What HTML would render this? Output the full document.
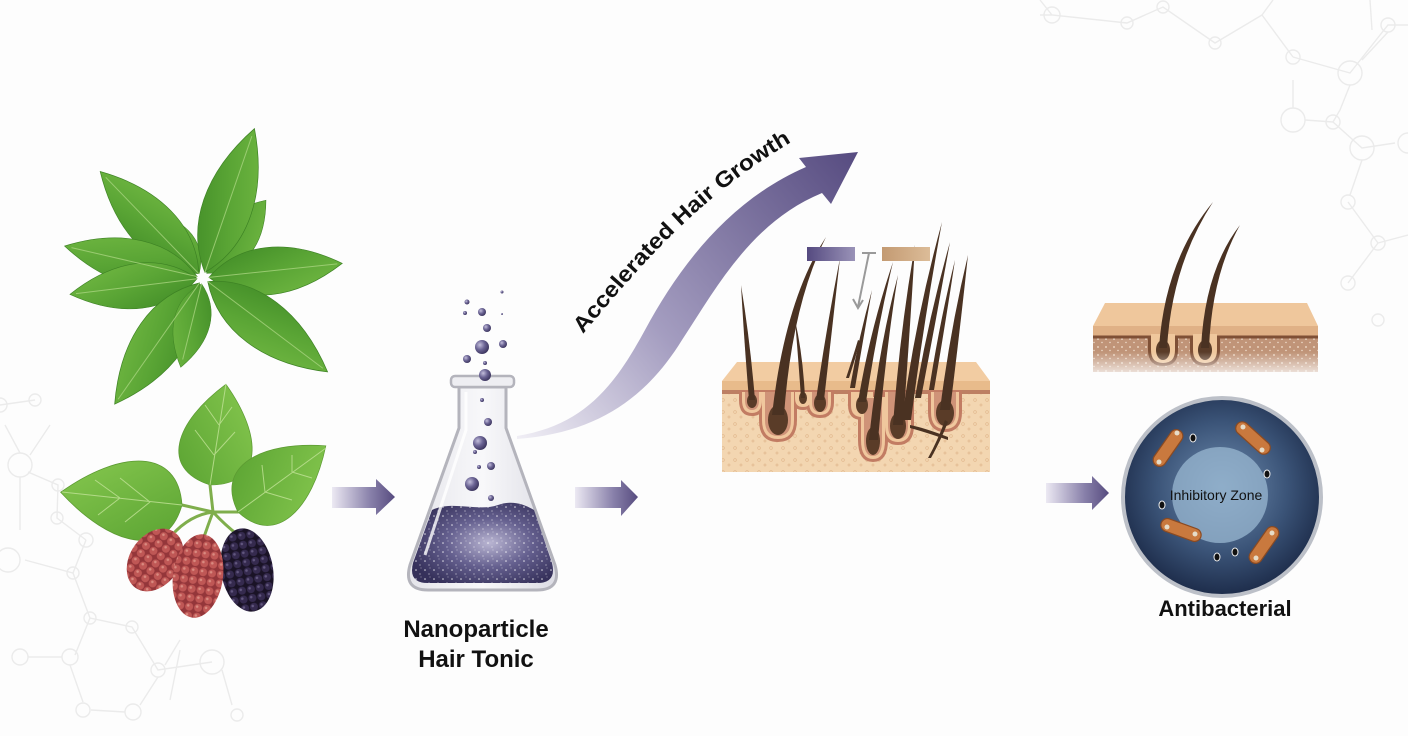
<!DOCTYPE html>
<html><head><meta charset="utf-8"><style>
html,body{margin:0;padding:0;background:#fdfdfd;}
svg{display:block;}
</style></head><body>
<svg width="1408" height="736" viewBox="0 0 1408 736" xmlns="http://www.w3.org/2000/svg">
<defs>
  <linearGradient id="arr" x1="0" y1="0" x2="1" y2="0">
    <stop offset="0" stop-color="#ece9f3"/><stop offset="0.6" stop-color="#8a82ab"/><stop offset="1" stop-color="#564b7f"/>
  </linearGradient>
  <linearGradient id="curve" x1="518" y1="437" x2="858" y2="152" gradientUnits="userSpaceOnUse">
    <stop offset="0" stop-color="#f0eef5"/><stop offset="0.4" stop-color="#a49dc0"/><stop offset="1" stop-color="#564b80"/>
  </linearGradient>
  <linearGradient id="leafg" x1="0" y1="0" x2="1" y2="1">
    <stop offset="0" stop-color="#3f8a26"/><stop offset="0.5" stop-color="#5aa535"/><stop offset="1" stop-color="#74ba44"/>
  </linearGradient>
  <linearGradient id="mleafg" x1="0" y1="0" x2="1" y2="1">
    <stop offset="0" stop-color="#5aa332"/><stop offset="1" stop-color="#88c950"/>
  </linearGradient>
  <path id="leaf" d="M0,0 C25,-30 62,-30 100,0 C62,30 25,30 0,0 Z"/>
  <path id="mleaf" d="M0,0 C8,-42 55,-36 100,0 C55,36 8,42 0,0 Z"/>
  <pattern id="redB" width="9" height="9" patternUnits="userSpaceOnUse">
    <rect width="9" height="9" fill="#94363a"/>
    <circle cx="4.5" cy="4.5" r="4" fill="#bf5755"/><circle cx="3.4" cy="3.4" r="1.3" fill="#d98a80"/>
  </pattern>
  <pattern id="blkB" width="9" height="9" patternUnits="userSpaceOnUse">
    <rect width="9" height="9" fill="#1a1326"/>
    <circle cx="4.5" cy="4.5" r="4" fill="#352a4e"/><circle cx="3.4" cy="3.4" r="1.3" fill="#62577f"/>
  </pattern>
  <linearGradient id="glass" x1="0" y1="0" x2="1" y2="0">
    <stop offset="0" stop-color="#e4e4ea"/><stop offset="0.5" stop-color="#f8f8fa"/><stop offset="1" stop-color="#dcdce4"/>
  </linearGradient>
  <radialGradient id="liq" cx="0.55" cy="0.5" r="0.6">
    <stop offset="0" stop-color="#b9b5d2"/><stop offset="0.5" stop-color="#65608f"/><stop offset="1" stop-color="#35305a"/>
  </radialGradient>
  <pattern id="spk" width="9" height="9" patternUnits="userSpaceOnUse">
    <circle cx="2" cy="3" r="0.8" fill="#fff" opacity="0.8"/><circle cx="6" cy="7" r="0.6" fill="#fff" opacity="0.7"/><circle cx="7" cy="1" r="0.5" fill="#fff" opacity="0.6"/>
  </pattern>
  <radialGradient id="bub" cx="0.35" cy="0.35" r="0.7">
    <stop offset="0" stop-color="#c3bedb"/><stop offset="0.5" stop-color="#6b6494"/><stop offset="1" stop-color="#3a335c"/>
  </radialGradient>
  <pattern id="derm" width="12" height="12" patternUnits="userSpaceOnUse">
    <rect width="12" height="12" fill="#f3d6b1"/>
    <circle cx="3" cy="4" r="1.4" fill="none" stroke="#e2b98f" stroke-width="0.7"/>
    <circle cx="9" cy="9" r="1" fill="none" stroke="#e2b98f" stroke-width="0.7"/>
  </pattern>
  <pattern id="derm2" width="8" height="8" patternUnits="userSpaceOnUse">
    <rect width="8" height="8" fill="#c09478"/>
    <circle cx="2" cy="3" r="0.9" fill="#f3e2d2"/><circle cx="6" cy="6.5" r="0.7" fill="#f3e2d2"/>
  </pattern>
  <linearGradient id="fadeB" x1="0" y1="0" x2="0" y2="1">
    <stop offset="0" stop-color="#fdfdfd" stop-opacity="0"/><stop offset="1" stop-color="#fdfdfd" stop-opacity="0.85"/>
  </linearGradient>
  <radialGradient id="dish" cx="0.5" cy="0.45" r="0.55">
    <stop offset="0" stop-color="#6f8db0"/><stop offset="0.6" stop-color="#3b5478"/><stop offset="1" stop-color="#1d2c4a"/>
  </radialGradient>
  <linearGradient id="barP" x1="0" y1="0" x2="1" y2="0">
    <stop offset="0" stop-color="#554a80"/><stop offset="1" stop-color="#9a93b8"/>
  </linearGradient>
  <linearGradient id="barT" x1="0" y1="0" x2="1" y2="0">
    <stop offset="0" stop-color="#c39a72"/><stop offset="1" stop-color="#dcbc98"/>
  </linearGradient>
</defs>

<!-- background network -->
<g stroke="#ebebeb" stroke-width="1.4" fill="none">
  <path d="M1040,0 L1052,15 L1127,23 L1163,7 L1215,43 L1262,15 M1040,15 L1052,15 M1273,0 L1262,15 M1293,57 L1350,73 L1388,25 L1408,25 M1293,57 L1262,15 M1293,80 L1293,108 M1350,85 L1340,110 L1333,122 L1305,120 M1333,122 L1362,148 L1395,143 M1362,160 L1350,195 M1348,202 L1378,243 L1408,235 M1378,243 L1348,283 M1388,32 L1362,60 M1370,0 L1372,30"/>
  <circle cx="1052" cy="15" r="8"/><circle cx="1127" cy="23" r="6"/><circle cx="1163" cy="7" r="6"/>
  <circle cx="1215" cy="43" r="6"/><circle cx="1293" cy="57" r="7"/><circle cx="1350" cy="73" r="12"/>
  <circle cx="1388" cy="25" r="7"/><circle cx="1293" cy="120" r="12"/><circle cx="1333" cy="122" r="7"/>
  <circle cx="1362" cy="148" r="12"/><circle cx="1408" cy="143" r="10"/><circle cx="1348" cy="202" r="7"/>
  <circle cx="1378" cy="243" r="7"/><circle cx="1348" cy="283" r="7"/><circle cx="1378" cy="320" r="6"/>
  <path d="M0,405 L35,400 M20,453 L5,425 M30,455 L50,425 M28,472 L58,485 L57,518 L86,540 M20,477 L20,530 M25,560 L73,573 L86,540 M73,573 L90,618 L132,627 L158,670 L212,662 M90,618 L75,655 M28,657 L62,657 M70,665 L83,702 M91,710 L125,712 M158,677 L140,705 M222,670 L232,705 M165,665 L180,640 M180,650 L170,700"/>
  <circle cx="35" cy="400" r="6"/><circle cx="0" cy="405" r="7"/><circle cx="20" cy="465" r="12"/>
  <circle cx="58" cy="485" r="6"/><circle cx="57" cy="518" r="6"/><circle cx="86" cy="540" r="7"/>
  <circle cx="8" cy="560" r="12"/><circle cx="73" cy="573" r="6"/><circle cx="90" cy="618" r="6"/>
  <circle cx="132" cy="627" r="6"/><circle cx="20" cy="657" r="8"/><circle cx="70" cy="657" r="8"/>
  <circle cx="158" cy="670" r="7"/><circle cx="212" cy="662" r="12"/><circle cx="83" cy="710" r="7"/>
  <circle cx="133" cy="712" r="8"/><circle cx="237" cy="715" r="6"/>
</g>

<!-- top leaf cluster -->
<g fill="url(#leafg)" stroke="#3d8224" stroke-width="0.6">
  <g transform="translate(203,278)">
    <use href="#leaf" transform="rotate(-51) translate(6,0) scale(0.94,0.95)"/>
    <use href="#leaf" transform="rotate(-128) translate(6,0) scale(0.78,0.8)"/>
    <use href="#leaf" transform="rotate(-71) translate(6,0) scale(1.52,1.1)"/>
    <use href="#leaf" transform="rotate(-134) translate(6,0) scale(1.42,1.05)"/>
    <use href="#leaf" transform="rotate(-167) translate(6,0) scale(1.36,1.0)"/>
    <use href="#leaf" transform="rotate(-6) translate(6,0) scale(1.34,1.05)"/>
    <use href="#leaf" transform="rotate(173) translate(6,0) scale(1.28,1.0)"/>
    <use href="#leaf" transform="rotate(37) translate(6,0) scale(1.5,1.1)"/>
    <use href="#leaf" transform="rotate(125) translate(6,0) scale(1.48,1.1)"/>
    <use href="#leaf" transform="rotate(104) translate(6,0) scale(0.86,0.8)"/>
  </g>
  <g stroke="#a8d47f" stroke-width="1" fill="none" opacity="0.8" transform="translate(203,278)">
    <path d="M6,0 L150,0" transform="rotate(-71)"/><path d="M6,0 L140,0" transform="rotate(-134)"/>
    <path d="M6,0 L135,0" transform="rotate(-167)"/><path d="M6,0 L135,0" transform="rotate(-6)"/>
    <path d="M6,0 L128,0" transform="rotate(173)"/><path d="M6,0 L150,0" transform="rotate(37)"/>
    <path d="M6,0 L148,0" transform="rotate(125)"/><path d="M6,0 L84,0" transform="rotate(104)"/>
  </g>
</g>

<!-- mulberry -->
<g>
  <g stroke="#7fae4c" stroke-width="3" fill="none" stroke-linecap="round">
    <path d="M213,512 L182,505 M213,512 L210,485 M213,512 L238,512 M213,512 Q190,515 172,535 M213,512 Q208,525 203,540 M213,512 Q225,525 238,535"/>
  </g>
  <g fill="url(#mleafg)" stroke="#5c9a32" stroke-width="0.6">
    <use href="#mleaf" transform="translate(182,505) rotate(186) scale(1.22,1.35)"/>
    <use href="#mleaf" transform="translate(210,485) rotate(-81) scale(1.02,1.25)"/>
    <use href="#mleaf" transform="translate(238,512) rotate(-37) scale(1.1,1.2)"/>
  </g>
  <g stroke="#b9de8e" stroke-width="1" fill="none" opacity="0.9">
    <path d="M182,505 L62,492 M150,502 L120,478 M150,502 L125,522 M120,498 L95,480 M120,498 L98,515"/>
    <path d="M210,485 L226,384 M214,455 L195,430 M214,455 L235,432 M219,425 L205,405 M219,425 L232,407"/>
    <path d="M238,512 L326,448 M265,492 L262,465 M265,492 L292,500 M292,472 L292,455 M292,472 L312,478"/>
  </g>
  <ellipse cx="155" cy="560" rx="25" ry="34" transform="rotate(35 155 560)" fill="url(#redB)"/>
  <ellipse cx="247" cy="570" rx="26" ry="42" transform="rotate(-10 247 570)" fill="url(#blkB)"/>
  <ellipse cx="198" cy="576" rx="25" ry="42" transform="rotate(8 198 576)" fill="url(#redB)"/>
</g>

<!-- arrows -->
<polygon points="332,487 376,487 376,479 395,497 376,515 376,508 332,508" fill="url(#arr)"/>
<polygon points="575,487 621,487 621,480 638,497 621,516 621,508 575,508" fill="url(#arr)"/>
<polygon points="1046,483 1092,483 1092,476 1109,493 1092,510 1092,503 1046,503" fill="url(#arr)"/>

<!-- flask -->
<g>
  <path d="M459,387 L459,428 L410,565 Q403,590 428,590 L537,590 Q562,590 555,565 L506,428 L506,387 Z" fill="url(#glass)" stroke="#b4b4bc" stroke-width="3"/>
  <path d="M432,510 C452,500 478,512 498,505 C512,500 524,504 534,510 L552,563 Q557,583 537,583 L428,583 Q408,583 413,563 Z" fill="url(#liq)"/>
  <path d="M432,510 C452,500 478,512 498,505 C512,500 524,504 534,510 L552,563 Q557,583 537,583 L428,583 Q408,583 413,563 Z" fill="url(#spk)"/>
  <rect x="451" y="376" width="63" height="11" rx="4" fill="#eeeef2" stroke="#b4b4bc" stroke-width="2.5"/>
  <path d="M466,392 L466,430 L425,555" stroke="#ffffff" stroke-width="3" fill="none" opacity="0.8"/>
  <g fill="url(#bub)">
    <circle cx="502" cy="292" r="1.5"/><circle cx="467" cy="302" r="2.5"/><circle cx="482" cy="312" r="4"/>
    <circle cx="465" cy="313" r="2"/><circle cx="502" cy="314" r="1"/><circle cx="487" cy="328" r="4"/>
    <circle cx="482" cy="347" r="7"/><circle cx="503" cy="344" r="4"/><circle cx="467" cy="359" r="4"/>
    <circle cx="485" cy="363" r="2"/><circle cx="485" cy="375" r="6"/><circle cx="482" cy="400" r="2"/>
    <circle cx="488" cy="422" r="4"/><circle cx="480" cy="443" r="7"/><circle cx="475" cy="452" r="2"/>
    <circle cx="479" cy="467" r="2"/><circle cx="491" cy="466" r="4"/><circle cx="472" cy="484" r="7"/>
    <circle cx="491" cy="498" r="3"/>
  </g>
</g>
<text x="476" y="637" text-anchor="middle" font-family="Liberation Sans, sans-serif" font-weight="bold" font-size="24" fill="#111">Nanoparticle</text>
<text x="476" y="667" text-anchor="middle" font-family="Liberation Sans, sans-serif" font-weight="bold" font-size="24" fill="#111">Hair Tonic</text>

<!-- curved arrow -->
<path d="M517,436 C585,425 615,385 645,330 C680,265 730,200 806,167 L799,158 L858,152 L831,204 L822,193 C752,222 718,285 682,340 C648,395 600,433 517,439 Z" fill="url(#curve)"/>
<path id="tp" d="M583,334 C635,272 698,196 795,140" fill="none"/>
<text font-family="Liberation Sans, sans-serif" font-weight="bold" font-size="22" fill="#111"><textPath href="#tp" textLength="285" lengthAdjust="spacingAndGlyphs">Accelerated Hair Growth</textPath></text>

<!-- middle skin -->
<g>
  <polygon points="722,381 737,362 976,362 990,381" fill="#f2cca2"/>
  <rect x="722" y="381" width="268" height="91" fill="url(#derm)"/>
  <rect x="722" y="381" width="268" height="9" fill="#e8bb8b"/>
  <line x1="722" y1="392" x2="990" y2="392" stroke="#bd7f63" stroke-width="4"/>
  <g>
    <g fill="#c27c63">
      <path d="M739,390 L739,400 Q739,416 752,416 Q765,416 765,400 L765,390 Z"/>
      <path d="M759,390 L759,420 Q759,442 778,442 Q797,442 797,420 L797,390 Z"/>
      <path d="M792,390 L792,398 Q792,410 803,410 Q814,410 814,398 L814,390 Z"/>
      <path d="M806,390 L806,402 Q806,418 820,418 Q834,418 834,402 L834,390 Z"/>
      <path d="M848,390 L848,405 Q848,420 862,420 Q876,420 876,405 L876,390 Z"/>
      <path d="M858,395 L858,440 Q858,462 873,462 Q888,462 888,440 L888,395 Z"/>
      <path d="M882,390 L882,425 Q882,445 898,445 Q914,445 914,425 L914,390 Z"/>
      <path d="M928,390 L928,412 Q928,432 945,432 Q962,432 962,412 L962,390 Z"/>
    </g>
    <g fill="#f0c79d">
      <path d="M742,392 L742,400 Q742,413 752,413 Q762,413 762,400 L762,392 Z"/>
      <path d="M762,392 L762,420 Q762,439 778,439 Q794,439 794,420 L794,392 Z"/>
      <path d="M795,392 L795,398 Q795,407 803,407 Q811,407 811,398 L811,392 Z"/>
      <path d="M809,392 L809,402 Q809,415 820,415 Q831,415 831,402 L831,392 Z"/>
      <path d="M851,392 L851,405 Q851,417 862,417 Q873,417 873,405 L873,392 Z"/>
      <path d="M861,397 L861,440 Q861,459 873,459 Q885,459 885,440 L885,397 Z"/>
      <path d="M885,392 L885,425 Q885,442 898,442 Q911,442 911,425 L911,392 Z"/>
      <path d="M931,392 L931,412 Q931,429 945,429 Q959,429 959,412 L959,392 Z"/>
    </g>
    <g fill="#cf9378">
      <path d="M745,392 L745,400 Q745,410 752,410 Q759,410 759,400 L759,392 Z"/>
      <path d="M765,392 L765,420 Q765,436 778,436 Q791,436 791,420 L791,392 Z"/>
      <path d="M812,392 L812,402 Q812,412 820,412 Q828,412 828,402 L828,392 Z"/>
      <path d="M864,398 L864,440 Q864,456 873,456 Q882,456 882,440 L882,398 Z"/>
      <path d="M888,392 L888,425 Q888,439 898,439 Q908,439 908,425 L908,392 Z"/>
      <path d="M934,392 L934,412 Q934,426 945,426 Q956,426 956,412 L956,392 Z"/>
    </g>
    <g fill="#5a3c28">
      <ellipse cx="752" cy="401" rx="5" ry="7"/>
      <ellipse cx="778" cy="420" rx="10" ry="15"/>
      <ellipse cx="803" cy="398" rx="4" ry="6"/>
      <ellipse cx="820" cy="403" rx="6" ry="9"/>
      <ellipse cx="862" cy="405" rx="6" ry="9"/>
      <ellipse cx="873" cy="441" rx="7" ry="14"/>
      <ellipse cx="898" cy="426" rx="8" ry="13"/>
      <ellipse cx="945" cy="413" rx="9" ry="13"/>
    </g>
  </g>
  <g fill="#4a3222">
    <path d="M749,400 Q744,340 741,285 Q750,340 755,400 Z"/>
    <path d="M772,415 Q785,300 826,237 Q792,305 784,415 Z"/>
    <path d="M801,398 Q798,355 795,320 Q803,355 805,398 Z"/>
    <path d="M816,400 Q826,330 840,258 Q832,330 824,400 Z"/>
    <path d="M850,388 Q858,340 872,290 Q863,340 855,388 Z"/>
    <path d="M858,402 Q870,330 893,262 Q877,330 866,402 Z"/>
    <path d="M869,440 Q878,350 898,275 Q886,350 878,440 Z"/>
    <path d="M893,425 Q900,330 915,245 Q910,330 903,425 Z"/>
    <path d="M902,420 Q915,320 942,222 Q924,320 911,420 Z"/>
    <path d="M915,398 Q928,320 950,242 Q936,320 921,398 Z"/>
    <path d="M929,390 Q940,320 955,260 Q946,320 934,390 Z"/>
    <path d="M940,410 Q950,330 968,255 Q960,330 950,410 Z"/>
    <path d="M910,428 Q925,432 948,440 L948,437 Q925,428 910,425 Z"/>
    <path d="M945,420 Q938,440 928,458 L931,458 Q941,440 948,422 Z"/>
    <path d="M846,378 Q852,360 858,340 L860,341 Q855,360 849,378 Z"/>
  </g>
  <rect x="807" y="247" width="48" height="14" fill="url(#barP)"/>
  <rect x="882" y="247" width="48" height="14" fill="url(#barT)"/>
  <g stroke="#9a9a9a" stroke-width="2" fill="none">
    <path d="M862,253 L876,253 M869,253 L858,307 M853,299 L858,308 L863,300"/>
  </g>
</g>

<!-- right skin -->
<g>
  <polygon points="1093,326 1105,303 1307,303 1318,326" fill="#efc79c"/>
  <rect x="1093" y="326" width="225" height="10" fill="#e0b186"/>
  <rect x="1093" y="338" width="225" height="34" fill="url(#derm2)"/>
  <line x1="1093" y1="337" x2="1318" y2="337" stroke="#7f5036" stroke-width="3"/>
  <path d="M1148,336 L1148,350 Q1148,366 1163,366 Q1178,366 1178,350 L1178,336 Z" fill="#7f5036"/>
  <path d="M1190,336 L1190,350 Q1190,366 1205,366 Q1220,366 1220,350 L1220,336 Z" fill="#7f5036"/>
  <path d="M1151,334 L1151,350 Q1151,363 1163,363 Q1175,363 1175,350 L1175,334 Z" fill="#efc79c"/>
  <path d="M1193,334 L1193,350 Q1193,363 1205,363 Q1217,363 1217,350 L1217,334 Z" fill="#efc79c"/>
  <ellipse cx="1163" cy="350" rx="7" ry="10" fill="#5a3c28"/>
  <ellipse cx="1205" cy="350" rx="7" ry="10" fill="#5a3c28"/>
  <path d="M1159,348 Q1165,260 1213,202 Q1172,265 1167,348 Z" fill="#4a3222"/>
  <path d="M1201,348 Q1205,270 1240,225 Q1212,275 1209,348 Z" fill="#4a3222"/>
  <rect x="1090" y="352" width="232" height="24" fill="url(#fadeB)"/>
</g>

<!-- petri dish -->
<g>
  <circle cx="1222" cy="497" r="99" fill="url(#dish)" stroke="#bcc0c8" stroke-width="4"/>
  <circle cx="1220" cy="495" r="48" fill="#9ab8d2" opacity="0.75"/>
  <g fill="#c9793e" stroke="#8a4a22" stroke-width="1.2">
    <rect x="-21" y="-6.5" width="42" height="13" rx="6.5" transform="translate(1168,448) rotate(-55)"/>
    <rect x="-21" y="-6.5" width="42" height="13" rx="6.5" transform="translate(1253,438) rotate(42)"/>
    <rect x="-21" y="-6.5" width="42" height="13" rx="6.5" transform="translate(1181,530) rotate(20)"/>
    <rect x="-21" y="-6.5" width="42" height="13" rx="6.5" transform="translate(1264,545) rotate(-55)"/>
  </g>
  <g fill="#e6dcc8">
    <circle cx="1159" cy="462" r="2.5"/><circle cx="1177" cy="433" r="2.5"/>
    <circle cx="1243" cy="427" r="2.5"/><circle cx="1262" cy="450" r="2.5"/>
    <circle cx="1167" cy="527" r="2.5"/><circle cx="1195" cy="534" r="2.5"/>
    <circle cx="1256" cy="558" r="2.5"/><circle cx="1272" cy="533" r="2.5"/>
  </g>
  <g fill="#111" stroke="#eee" stroke-width="1">
    <ellipse cx="1193" cy="438" rx="3" ry="4"/><ellipse cx="1267" cy="474" rx="3" ry="4"/>
    <ellipse cx="1162" cy="505" rx="3" ry="4"/><ellipse cx="1217" cy="557" rx="3" ry="4"/>
    <ellipse cx="1235" cy="552" rx="3" ry="4"/>
  </g>
  <text x="1216" y="500" text-anchor="middle" font-family="Liberation Sans, sans-serif" font-size="14" fill="#111">Inhibitory Zone</text>
</g>
<text x="1225" y="616" text-anchor="middle" font-family="Liberation Sans, sans-serif" font-weight="bold" font-size="22" fill="#111">Antibacterial</text>
</svg>
</body></html>
